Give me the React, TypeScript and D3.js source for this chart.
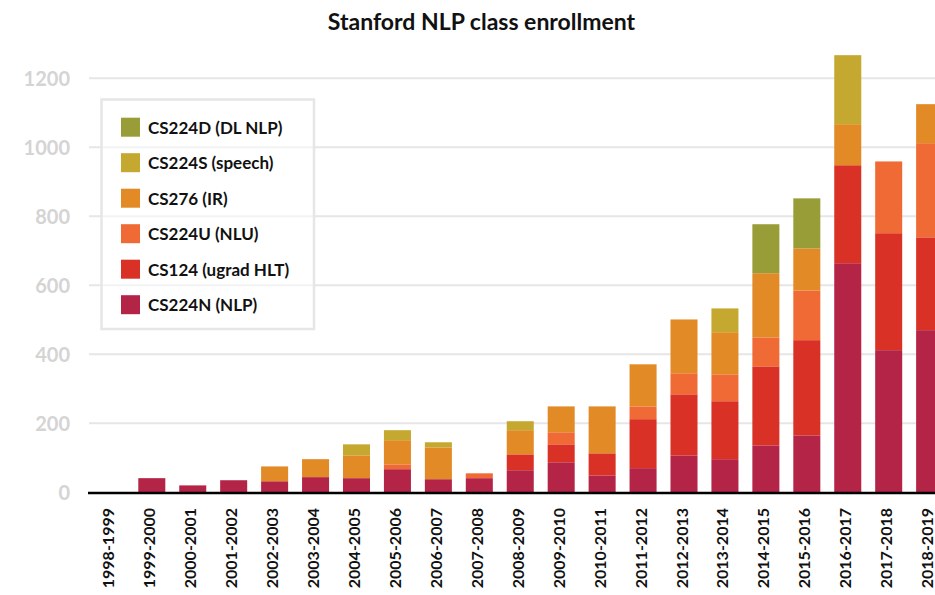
import React from "react";
import * as d3 from "d3";

const categories = [
  "1998-1999", "1999-2000", "2000-2001", "2001-2002", "2002-2003", "2003-2004",
  "2004-2005", "2005-2006", "2006-2007", "2007-2008", "2008-2009", "2009-2010",
  "2010-2011", "2011-2012", "2012-2013", "2013-2014", "2014-2015", "2015-2016",
  "2016-2017", "2017-2018", "2018-2019",
];

// stacked bottom -> top
const cs224n = [0, 41, 20, 35, 32, 44, 41, 67, 38, 41, 64, 87, 49, 70, 107, 96, 136, 165, 664, 412, 470];
const cs124 = [0, 0, 0, 0, 0, 0, 0, 0, 0, 0, 46, 52, 64, 142, 177, 168, 229, 276, 284, 339, 269];
const cs224u = [0, 0, 0, 0, 0, 0, 0, 14, 0, 14, 0, 35, 0, 37, 61, 78, 84, 144, 0, 208, 273];
const cs276 = [0, 0, 0, 0, 43, 52, 66, 70, 92, 0, 70, 75, 136, 122, 156, 122, 186, 122, 119, 0, 113];
const cs224s = [0, 0, 0, 0, 0, 0, 32, 29, 15, 0, 26, 0, 0, 0, 0, 69, 0, 0, 200, 0, 0];
const cs224d = [0, 0, 0, 0, 0, 0, 0, 0, 0, 0, 0, 0, 0, 0, 0, 0, 142, 145, 0, 0, 0];

const seriesNames = ["CS224N (NLP)", "CS124 (ugrad HLT)", "CS224U (NLU)", "CS276 (IR)", "CS224S (speech)", "CS224D (DL NLP)"];
const seriesValues = [cs224n, cs124, cs224u, cs276, cs224s, cs224d];
const seriesColors = ["#b32447", "#da3127", "#f06a35", "#e28a26", "#c4a82f", "#989d38"];
const yTicks = [0, 200, 400, 600, 800, 1000, 1200];

const W = 935;
const H = 595;
const FONT = "Lato, 'Open Sans', sans-serif";

export default function App() {
  const x = d3.scaleBand<string>().domain(categories).range([90.4, 950.1]).paddingInner(0.34).paddingOuter(0.17);
  const y = d3.scaleLinear().domain([0, 1200]).range([492.3, 78.3]);

  const keys = seriesNames;
  const rows = categories.map((c, i) => {
    const r: any = { cat: c };
    keys.forEach((k, j) => (r[k] = seriesValues[j][i]));
    return r;
  });
  const stacked = d3.stack<any>().keys(keys)(rows);

  const legendOrder = [...keys.keys()].reverse();

  return (
    <svg width={W} height={H} style={{ position: "absolute", left: 0, top: 0, fontFamily: FONT }}>
      <rect width={W} height={H} fill="#fff" />
      <text x={481.5} y={29.5} textAnchor="middle" fontSize={23} fontWeight={700} fill="#111">
        Stanford NLP class enrollment
      </text>
      {yTicks.map((t) => (
        <g key={t}>
          {t > 0 && <line x1={89} x2={950} y1={y(t)} y2={y(t)} stroke="#e6e6e6" strokeWidth={2} />}
          <text x={70} y={y(t)} textAnchor="end" dominantBaseline="central" fontSize={20} fontWeight={700} fill="#d4d4d4">
            {t}
          </text>
        </g>
      ))}
      {stacked.map((s, j) => (
        <g key={s.key} fill={seriesColors[j]}>
          {s.map((d, i) =>
            d[1] - d[0] > 0 ? (
              <rect key={i} x={x(categories[i])} width={x.bandwidth()} y={y(d[1])} height={y(d[0]) - y(d[1])} />
            ) : null
          )}
        </g>
      ))}
      <line x1={88} x2={950} y1={493} y2={493} stroke="#000" strokeWidth={2.5} />
      {categories.map((c) => {
        const cx = (x(c) as number) + x.bandwidth() / 2 - 3;
        return (
          <text key={c} transform={`translate(${cx},508) rotate(-90)`} textAnchor="end" dominantBaseline="central" fontSize={16} fontWeight={700} fill="#111">
            {c}
          </text>
        );
      })}
      <rect x={101.5} y={99.5} width={212.5} height={229.5} fill="#fff" fillOpacity={0.5} stroke="#e6e6e6" strokeWidth={2.5} />
      {legendOrder.map((j, r) => (
        <g key={j} transform={`translate(121,${117.7 + r * 35.5})`}>
          <rect width={19} height={19} fill={seriesColors[j]} />
          <text x={27} y={9.5} dominantBaseline="central" fontSize={17} fontWeight={700} fill="#111">
            {seriesNames[j]}
          </text>
        </g>
      ))}
    </svg>
  );
}
